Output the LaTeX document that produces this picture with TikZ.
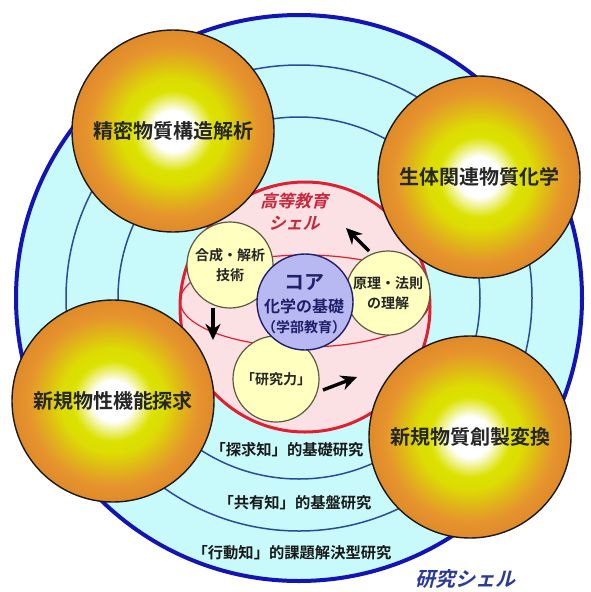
\documentclass[tikz,border=0pt]{standalone}
\usepackage{fontspec}
\setmainfont{Noto Sans CJK JP Bold}
\newfontfamily\jpslant{Noto Sans CJK JP Bold}[FakeSlant=0.25]
\usetikzlibrary{arrows.meta}
\definecolor{ringfill}{HTML}{C8FAFC}
\definecolor{ringblue}{HTML}{1414B4}
\definecolor{thinblue}{HTML}{2A4A9E}
\definecolor{pinkfill}{HTML}{FBE0E4}
\definecolor{shellred}{HTML}{E02030}
\definecolor{corefill}{HTML}{B8B8F2}
\definecolor{coreline}{HTML}{20206A}
\definecolor{ylwfill}{HTML}{FFFFC0}
\definecolor{ylwline}{HTML}{5A5A40}
\definecolor{ballylw}{HTML}{DCE200}
\definecolor{ballgold}{HTML}{E0B618}
\definecolor{ballorg}{HTML}{E6942E}
\definecolor{ballrim}{HTML}{E08A2A}
\definecolor{labred}{HTML}{C8283C}
\definecolor{labblue}{HTML}{2A3A9A}
\pgfdeclareradialshading{ballshade}{\pgfpoint{0bp}{0bp}}{color(0bp)=(white); color(5bp)=(white); color(10bp)=(ballylw); color(13bp)=(ballylw!85!ballgold); color(17bp)=(ballgold); color(21bp)=(ballorg); color(25bp)=(ballrim); color(50bp)=(ballrim)}
\tikzset{
  ball/.style={circle, draw=black!90, line width=1.4pt, shading=ballshade, minimum size=202pt, inner sep=0pt, font=\fontsize{20}{24}\selectfont, text=black!85},
  yball/.style={circle, draw=ylwline, line width=1.2pt, fill=ylwfill, minimum size=86pt, inner sep=0pt, align=center, font=\fontsize{14}{20}\selectfont, text=black!85},
  ringlab/.style={font=\fontsize{15.3}{18}\selectfont, text=black!90},
  bigarrow/.style={-{Stealth[length=16pt,width=15pt,inset=5pt]}, line width=3.4pt, black}
}
\begin{document}
\begin{tikzpicture}[x=1pt,y=-1pt]
\useasboundingbox (0,0) rectangle (591,592);
\fill[white] (0,0) rectangle (591,592);
% outer research shell
\node[circle, draw=ringblue, line width=4pt, fill=ringfill, minimum size=566pt, inner sep=0pt] (outer) at (299,298) {};
\draw[thinblue, line width=1.5pt] (299,298) circle[radius=181pt];
\draw[thinblue, line width=1.5pt] (299,298) circle[radius=233pt];
% ring labels
\node[ringlab] (l1) at (287,450) {「探求知」的基礎研究};
\node[ringlab] (l2) at (295,503) {「共有知」的基盤研究};
\node[ringlab] (l3) at (292,553) {「行動知」的課題解決型研究};
% higher education shell
\node[circle, draw=shellred, line width=3pt, fill=pinkfill, minimum size=250pt, inner sep=0pt] (shell) at (305,307) {};
\draw[shellred, line width=1.2pt] (305,301) ellipse[x radius=125pt, y radius=46pt];
\node[font=\jpslant\fontsize{17}{22}\selectfont, text=labred, align=center] (shelllab) at (294,212) {高等教育\\シェル};
% inner circles
\node[yball] (gosei) at (230,265) {合成・解析\\技術};
\node[yball, minimum size=84pt] (genri) at (388,293) {原理・法則\\の理解};
\node[yball] (kenkyu) at (276,379) {「研究力」};
\node[circle, draw=coreline, line width=1.4pt, fill=corefill, minimum size=96pt, inner sep=0pt] (core) at (305,302) {};
\node[font=\fontsize{20}{22}\selectfont, text=coreline] (corelab) at (304,283) {コア};
\node[font=\fontsize{16}{20}\selectfont, text=coreline] (corel2) at (304,306) {化学の基礎};
\node[font=\fontsize{14}{18}\selectfont, text=coreline] (corel3) at (304,327) {（学部教育）};
% arrows
\coordinate (a1s) at (369,251); \coordinate (a1e) at (346,228);
\coordinate (a2s) at (213,308); \coordinate (a2e) at (213,340);
\coordinate (a3s) at (323,390); \coordinate (a3e) at (357,377);
\draw[bigarrow] (a1s) -- (a1e);
\draw[bigarrow] (a2s) -- (a2e);
\draw[bigarrow] (a3s) -- (a3e);
% spheres
\node[ball] (b1) at (173,131) {精密物質構造解析};
\node[ball] (b2) at (479,177) {生体関連物質化学};
\node[ball] (b3) at (113,401) {新規物性機能探求};
\node[ball] (b4) at (470,437) {新規物質創製変換};
% research shell label
\node[font=\jpslant\fontsize{20}{24}\selectfont, text=labblue] (reslab) at (465,579) {研究シェル};
\end{tikzpicture}
\end{document}
